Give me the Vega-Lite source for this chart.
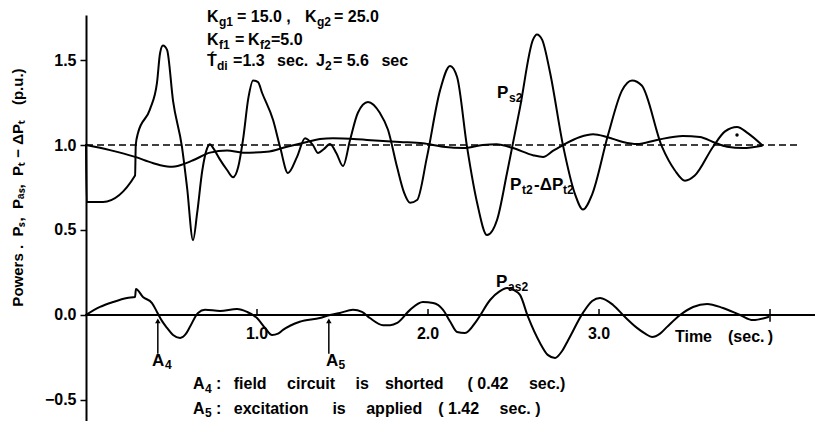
{
  "$schema": "https://vega.github.io/schema/vega-lite/v6.json",
  "width": 729,
  "height": 406,
  "autosize": {"type": "none"},
  "padding": {"left": 86, "top": 15, "right": 0, "bottom": 0},
  "background": "white",
  "config": {
    "view": {"stroke": null},
    "text": {"font": "Liberation Sans", "fontWeight": "bold", "color": "black"}
  },
  "resolve": {"axis": {"x": "independent", "y": "independent"}},
  "datasets": {
    "curves": [
      {"s": "Ps2", "t": 0, "v": 1.0}, {"s": "Ps2", "t": 0.004, "v": 0.665}, {"s": "Ps2", "t": 0.1, "v": 0.665},
      {"s": "Ps2", "t": 0.287, "v": 0.82}, {"s": "Ps2", "t": 0.291, "v": 1.0}, {"s": "Ps2", "t": 0.304, "v": 1.07},
      {"s": "Ps2", "t": 0.374, "v": 1.21}, {"s": "Ps2", "t": 0.415, "v": 1.365}, {"s": "Ps2", "t": 0.433, "v": 1.54},
      {"s": "Ps2", "t": 0.45, "v": 1.585}, {"s": "Ps2", "t": 0.474, "v": 1.56}, {"s": "Ps2", "t": 0.509, "v": 1.26},
      {"s": "Ps2", "t": 0.561, "v": 0.99}, {"s": "Ps2", "t": 0.591, "v": 0.75}, {"s": "Ps2", "t": 0.626, "v": 0.44},
      {"s": "Ps2", "t": 0.65, "v": 0.6}, {"s": "Ps2", "t": 0.68, "v": 0.85}, {"s": "Ps2", "t": 0.708, "v": 0.98},
      {"s": "Ps2", "t": 0.725, "v": 1.005}, {"s": "Ps2", "t": 0.745, "v": 0.98}, {"s": "Ps2", "t": 0.78, "v": 0.92},
      {"s": "Ps2", "t": 0.825, "v": 0.853}, {"s": "Ps2", "t": 0.86, "v": 0.81}, {"s": "Ps2", "t": 0.89, "v": 0.87},
      {"s": "Ps2", "t": 0.918, "v": 1.03}, {"s": "Ps2", "t": 0.95, "v": 1.28}, {"s": "Ps2", "t": 0.977, "v": 1.38},
      {"s": "Ps2", "t": 1.006, "v": 1.37}, {"s": "Ps2", "t": 1.03, "v": 1.306}, {"s": "Ps2", "t": 1.094, "v": 1.147},
      {"s": "Ps2", "t": 1.135, "v": 0.988}, {"s": "Ps2", "t": 1.181, "v": 0.835}, {"s": "Ps2", "t": 1.234, "v": 0.93},
      {"s": "Ps2", "t": 1.281, "v": 1.04}, {"s": "Ps2", "t": 1.327, "v": 1.0}, {"s": "Ps2", "t": 1.357, "v": 0.953},
      {"s": "Ps2", "t": 1.39, "v": 0.975}, {"s": "Ps2", "t": 1.427, "v": 1.006}, {"s": "Ps2", "t": 1.465, "v": 0.95},
      {"s": "Ps2", "t": 1.503, "v": 0.876}, {"s": "Ps2", "t": 1.544, "v": 1.03}, {"s": "Ps2", "t": 1.59, "v": 1.19},
      {"s": "Ps2", "t": 1.649, "v": 1.253}, {"s": "Ps2", "t": 1.719, "v": 1.188}, {"s": "Ps2", "t": 1.766, "v": 1.09},
      {"s": "Ps2", "t": 1.819, "v": 0.87}, {"s": "Ps2", "t": 1.86, "v": 0.72}, {"s": "Ps2", "t": 1.895, "v": 0.66},
      {"s": "Ps2", "t": 1.936, "v": 0.676}, {"s": "Ps2", "t": 1.994, "v": 0.93}, {"s": "Ps2", "t": 2.07, "v": 1.32},
      {"s": "Ps2", "t": 2.129, "v": 1.465}, {"s": "Ps2", "t": 2.17, "v": 1.4}, {"s": "Ps2", "t": 2.228, "v": 0.99},
      {"s": "Ps2", "t": 2.287, "v": 0.66}, {"s": "Ps2", "t": 2.345, "v": 0.47}, {"s": "Ps2", "t": 2.404, "v": 0.56},
      {"s": "Ps2", "t": 2.462, "v": 0.835}, {"s": "Ps2", "t": 2.538, "v": 1.22}, {"s": "Ps2", "t": 2.614, "v": 1.62},
      {"s": "Ps2", "t": 2.637, "v": 1.65}, {"s": "Ps2", "t": 2.667, "v": 1.62}, {"s": "Ps2", "t": 2.713, "v": 1.43},
      {"s": "Ps2", "t": 2.79, "v": 0.995}, {"s": "Ps2", "t": 2.86, "v": 0.71}, {"s": "Ps2", "t": 2.906, "v": 0.62},
      {"s": "Ps2", "t": 2.96, "v": 0.71}, {"s": "Ps2", "t": 3.053, "v": 1.06}, {"s": "Ps2", "t": 3.134, "v": 1.32},
      {"s": "Ps2", "t": 3.193, "v": 1.38}, {"s": "Ps2", "t": 3.25, "v": 1.35}, {"s": "Ps2", "t": 3.368, "v": 0.99},
      {"s": "Ps2", "t": 3.444, "v": 0.85}, {"s": "Ps2", "t": 3.503, "v": 0.79}, {"s": "Ps2", "t": 3.56, "v": 0.82},
      {"s": "Ps2", "t": 3.667, "v": 0.99}, {"s": "Ps2", "t": 3.737, "v": 1.08}, {"s": "Ps2", "t": 3.807, "v": 1.106},
      {"s": "Ps2", "t": 3.87, "v": 1.07}, {"s": "Ps2", "t": 3.953, "v": 1.0},

      {"s": "Pt2", "t": 0, "v": 1.0}, {"s": "Pt2", "t": 0.14, "v": 0.97}, {"s": "Pt2", "t": 0.287, "v": 0.93},
      {"s": "Pt2", "t": 0.39, "v": 0.894}, {"s": "Pt2", "t": 0.49, "v": 0.872}, {"s": "Pt2", "t": 0.52, "v": 0.874},
      {"s": "Pt2", "t": 0.626, "v": 0.91}, {"s": "Pt2", "t": 0.725, "v": 0.955}, {"s": "Pt2", "t": 0.825, "v": 0.968},
      {"s": "Pt2", "t": 0.918, "v": 0.955}, {"s": "Pt2", "t": 1.058, "v": 0.96}, {"s": "Pt2", "t": 1.175, "v": 0.99},
      {"s": "Pt2", "t": 1.292, "v": 1.018}, {"s": "Pt2", "t": 1.368, "v": 1.035}, {"s": "Pt2", "t": 1.444, "v": 1.04},
      {"s": "Pt2", "t": 1.643, "v": 1.03}, {"s": "Pt2", "t": 1.836, "v": 1.018}, {"s": "Pt2", "t": 1.97, "v": 1.01},
      {"s": "Pt2", "t": 2.088, "v": 0.99}, {"s": "Pt2", "t": 2.205, "v": 0.982}, {"s": "Pt2", "t": 2.32, "v": 1.0},
      {"s": "Pt2", "t": 2.4, "v": 1.004}, {"s": "Pt2", "t": 2.497, "v": 0.982}, {"s": "Pt2", "t": 2.614, "v": 0.94},
      {"s": "Pt2", "t": 2.673, "v": 0.93}, {"s": "Pt2", "t": 2.73, "v": 0.965}, {"s": "Pt2", "t": 2.79, "v": 1.0},
      {"s": "Pt2", "t": 2.889, "v": 1.047}, {"s": "Pt2", "t": 2.965, "v": 1.063}, {"s": "Pt2", "t": 3.047, "v": 1.047},
      {"s": "Pt2", "t": 3.14, "v": 1.018}, {"s": "Pt2", "t": 3.222, "v": 1.006}, {"s": "Pt2", "t": 3.339, "v": 1.03},
      {"s": "Pt2", "t": 3.49, "v": 1.053}, {"s": "Pt2", "t": 3.59, "v": 1.047}, {"s": "Pt2", "t": 3.667, "v": 1.018},
      {"s": "Pt2", "t": 3.749, "v": 0.99}, {"s": "Pt2", "t": 3.842, "v": 0.982}, {"s": "Pt2", "t": 3.953, "v": 0.996},

      {"s": "Pas2", "t": 0, "v": 0.0}, {"s": "Pas2", "t": 0.082, "v": 0.047}, {"s": "Pas2", "t": 0.158, "v": 0.076},
      {"s": "Pas2", "t": 0.24, "v": 0.1}, {"s": "Pas2", "t": 0.287, "v": 0.106}, {"s": "Pas2", "t": 0.292, "v": 0.153},
      {"s": "Pas2", "t": 0.333, "v": 0.106}, {"s": "Pas2", "t": 0.386, "v": 0.07}, {"s": "Pas2", "t": 0.415, "v": 0.018},
      {"s": "Pas2", "t": 0.444, "v": -0.035}, {"s": "Pas2", "t": 0.474, "v": -0.076}, {"s": "Pas2", "t": 0.509, "v": -0.118},
      {"s": "Pas2", "t": 0.55, "v": -0.135}, {"s": "Pas2", "t": 0.585, "v": -0.11}, {"s": "Pas2", "t": 0.608, "v": -0.07},
      {"s": "Pas2", "t": 0.655, "v": 0.012}, {"s": "Pas2", "t": 0.696, "v": 0.03}, {"s": "Pas2", "t": 0.784, "v": 0.024},
      {"s": "Pas2", "t": 0.883, "v": 0.035}, {"s": "Pas2", "t": 0.942, "v": 0.018}, {"s": "Pas2", "t": 1.0, "v": -0.018},
      {"s": "Pas2", "t": 1.047, "v": -0.076}, {"s": "Pas2", "t": 1.088, "v": -0.118}, {"s": "Pas2", "t": 1.123, "v": -0.11},
      {"s": "Pas2", "t": 1.152, "v": -0.088}, {"s": "Pas2", "t": 1.25, "v": -0.04}, {"s": "Pas2", "t": 1.368, "v": -0.018},
      {"s": "Pas2", "t": 1.427, "v": 0.0}, {"s": "Pas2", "t": 1.485, "v": 0.012}, {"s": "Pas2", "t": 1.561, "v": 0.03},
      {"s": "Pas2", "t": 1.614, "v": 0.018}, {"s": "Pas2", "t": 1.66, "v": -0.018}, {"s": "Pas2", "t": 1.737, "v": -0.06},
      {"s": "Pas2", "t": 1.778, "v": -0.06}, {"s": "Pas2", "t": 1.82, "v": -0.047}, {"s": "Pas2", "t": 1.895, "v": 0.03},
      {"s": "Pas2", "t": 1.97, "v": 0.076}, {"s": "Pas2", "t": 2.03, "v": 0.07}, {"s": "Pas2", "t": 2.088, "v": 0.03},
      {"s": "Pas2", "t": 2.13, "v": -0.04}, {"s": "Pas2", "t": 2.17, "v": -0.1}, {"s": "Pas2", "t": 2.216, "v": -0.106},
      {"s": "Pas2", "t": 2.287, "v": -0.03}, {"s": "Pas2", "t": 2.363, "v": 0.088}, {"s": "Pas2", "t": 2.42, "v": 0.14},
      {"s": "Pas2", "t": 2.462, "v": 0.159}, {"s": "Pas2", "t": 2.5, "v": 0.147}, {"s": "Pas2", "t": 2.538, "v": 0.118},
      {"s": "Pas2", "t": 2.585, "v": -0.012}, {"s": "Pas2", "t": 2.655, "v": -0.165}, {"s": "Pas2", "t": 2.7, "v": -0.235},
      {"s": "Pas2", "t": 2.743, "v": -0.253}, {"s": "Pas2", "t": 2.78, "v": -0.218}, {"s": "Pas2", "t": 2.82, "v": -0.147},
      {"s": "Pas2", "t": 2.906, "v": 0.012}, {"s": "Pas2", "t": 2.96, "v": 0.082}, {"s": "Pas2", "t": 3.006, "v": 0.1},
      {"s": "Pas2", "t": 3.082, "v": 0.059}, {"s": "Pas2", "t": 3.152, "v": -0.012}, {"s": "Pas2", "t": 3.222, "v": -0.076},
      {"s": "Pas2", "t": 3.27, "v": -0.11}, {"s": "Pas2", "t": 3.31, "v": -0.13}, {"s": "Pas2", "t": 3.357, "v": -0.11},
      {"s": "Pas2", "t": 3.398, "v": -0.07}, {"s": "Pas2", "t": 3.474, "v": 0.0}, {"s": "Pas2", "t": 3.55, "v": 0.047},
      {"s": "Pas2", "t": 3.632, "v": 0.065}, {"s": "Pas2", "t": 3.725, "v": 0.041}, {"s": "Pas2", "t": 3.825, "v": 0.0},
      {"s": "Pas2", "t": 3.9, "v": -0.03}, {"s": "Pas2", "t": 3.99, "v": -0.012}
    ],
    "params": [
      {"t": 0.708, "v": 1.7235, "text": "K"},
      {"t": 0.883, "v": 1.7235, "text": "= 15.0 ,"},
      {"t": 1.281, "v": 1.7235, "text": "K"},
      {"t": 1.45, "v": 1.7235, "text": "= 25.0"},
      {"t": 0.708, "v": 1.588, "text": "K"},
      {"t": 0.871, "v": 1.588, "text": "="},
      {"t": 0.947, "v": 1.588, "text": "K"},
      {"t": 1.082, "v": 1.588, "text": "=5.0"},
      {"t": 0.708, "v": 1.462, "text": "T\u0301"},
      {"t": 0.86, "v": 1.462, "text": "=1.3\u2002 sec."},
      {"t": 1.345, "v": 1.462, "text": "J"},
      {"t": 1.444, "v": 1.462, "text": "= 5.6\u2002 sec"}
    ],
    "paramSubs": [
      {"t": 0.778, "v": 1.703, "text": "g1"},
      {"t": 1.351, "v": 1.703, "text": "g2"},
      {"t": 0.778, "v": 1.567, "text": "f1"},
      {"t": 1.018, "v": 1.567, "text": "f2"},
      {"t": 0.766, "v": 1.441, "text": "di"},
      {"t": 1.398, "v": 1.441, "text": "2"}
    ],
    "notes": [
      {"t": 0.626, "v": -0.436, "text": "A"},
      {"t": 0.76, "v": -0.436, "text": ":\u2002 field\u2002\u2002 circuit\u2002\u2002 is\u2002\u2002shorted\u2002\u2002\u2002( 0.42\u2002\u2002 sec.)"},
      {"t": 0.626, "v": -0.582, "text": "A"},
      {"t": 0.76, "v": -0.582, "text": ":\u2002 excitation\u2002\u2002\u2002is\u2002\u2002 applied\u2002\u2002(\u00a01.42\u2002\u2002\u00a0sec.\u00a0)"}
    ],
    "noteSubs": [
      {"t": 0.696, "v": -0.457, "text": "4"},
      {"t": 0.696, "v": -0.603, "text": "5"}
    ],
    "curveLabels": [
      {"t": 2.404, "v": 1.276, "text": "P"},
      {"t": 2.48, "v": 0.735, "text": "P"},
      {"t": 2.62, "v": 0.735, "text": "-\u0394P"},
      {"t": 2.398, "v": 0.165, "text": "P"},
      {"t": 0.386, "v": -0.3, "text": "A"},
      {"t": 1.404, "v": -0.3, "text": "A"}
    ],
    "curveSubs": [
      {"t": 2.474, "v": 1.253, "text": "s2"},
      {"t": 2.55, "v": 0.712, "text": "t2"},
      {"t": 2.789, "v": 0.712, "text": "t2"},
      {"t": 2.468, "v": 0.142, "text": "as2"},
      {"t": 0.462, "v": -0.32, "text": "4"},
      {"t": 1.477, "v": -0.32, "text": "5"}
    ],
    "events": [
      {"t": 0.42, "name": "A4"},
      {"t": 1.42, "name": "A5"}
    ],
    "timeTicks": [
      {"t": 1, "label": "1.0"},
      {"t": 2, "label": "2.0"},
      {"t": 3, "label": "3.0"}
    ]
  },
  "layer": [
    {
      "data": {"values": [{}]},
      "mark": {"type": "rule", "strokeDash": [7, 4], "strokeWidth": 1.5, "color": "black"},
      "encoding": {
        "x": {"datum": 0, "type": "quantitative", "scale": {"domain": [0, 4.263], "nice": false, "zero": false}, "axis": null},
        "x2": {"datum": 4.175},
        "y": {"datum": 1, "type": "quantitative", "scale": {"domain": [-0.624, 1.765], "nice": false, "zero": false}, "axis": null}
      }
    },
    {
      "data": {"values": [{}]},
      "mark": {"type": "rule", "strokeWidth": 2, "color": "black"},
      "encoding": {
        "x": {"datum": 0, "type": "quantitative", "axis": null},
        "x2": {"datum": 4.263},
        "y": {"datum": 0, "type": "quantitative", "axis": null}
      }
    },
    {
      "data": {"name": "timeTicks"},
      "mark": {"type": "rule", "strokeWidth": 1.5, "color": "black"},
      "encoding": {
        "x": {"field": "t", "type": "quantitative", "axis": null},
        "y": {"datum": 0, "type": "quantitative", "axis": null},
        "y2": {"datum": 0.035}
      }
    },
    {
      "data": {"values": [{}]},
      "mark": {"type": "rule", "strokeWidth": 1.5, "color": "black"},
      "encoding": {
        "x": {"datum": 4, "type": "quantitative", "axis": null},
        "y": {"datum": -0.04, "type": "quantitative", "axis": null},
        "y2": {"datum": 0.035}
      }
    },
    {
      "data": {"name": "timeTicks"},
      "mark": {"type": "text", "align": "center", "baseline": "alphabetic", "fontSize": 16},
      "encoding": {
        "x": {"field": "t", "type": "quantitative", "axis": null},
        "y": {"datum": -0.141, "type": "quantitative", "axis": null},
        "text": {"field": "label"}
      }
    },
    {
      "data": {"values": [{"t": 3.444, "v": -0.159, "text": "Time\u2003(sec.\u2009)"}]},
      "mark": {"type": "text", "align": "left", "baseline": "alphabetic", "fontSize": 16},
      "encoding": {
        "x": {"field": "t", "type": "quantitative", "axis": null},
        "y": {"field": "v", "type": "quantitative", "axis": null},
        "text": {"field": "text"}
      }
    },
    {
      "data": {"name": "curves"},
      "mark": {"type": "line", "interpolate": "monotone", "strokeWidth": 2, "color": "black", "strokeJoin": "round", "strokeCap": "round"},
      "encoding": {
        "x": {"field": "t", "type": "quantitative", "axis": null},
        "y": {
          "field": "v",
          "type": "quantitative",
          "axis": {
            "values": [-0.5, 0, 0.5, 1, 1.5],
            "format": ".1f",
            "grid": false,
            "title": "Powers\u00a0.\u00a0 P\u209b,\u00a0 P\u2090\u209b,\u00a0 P\u209c \u2212 \u0394P\u209c\u2003(p.u.)",
            "domainColor": "black",
            "domainWidth": 2,
            "tickColor": "black",
            "tickWidth": 1.5,
            "tickSize": 6,
            "labelFont": "Liberation Sans",
            "labelFontSize": 16,
            "labelFontWeight": "bold",
            "labelColor": "black",
            "labelPadding": 4,
            "titleFont": "Liberation Sans",
            "titleFontSize": 15,
            "titleFontWeight": "bold",
            "titleColor": "black",
            "titleAngle": -90,
            "titleAlign": "center",
            "titleBaseline": "bottom",
            "titleX": -61,
            "titleY": 172
          }
        },
        "detail": {"field": "s", "type": "nominal"}
      }
    },
    {
      "data": {"values": [{"t": 3.807, "v": 1.059}]},
      "mark": {"type": "point", "filled": true, "size": 12, "color": "black", "opacity": 1},
      "encoding": {
        "x": {"field": "t", "type": "quantitative", "axis": null},
        "y": {"field": "v", "type": "quantitative", "axis": null}
      }
    },
    {
      "data": {"name": "events"},
      "mark": {"type": "rule", "strokeWidth": 1.5, "color": "black"},
      "encoding": {
        "x": {"field": "t", "type": "quantitative", "axis": null},
        "y": {"datum": -0.228, "type": "quantitative", "axis": null},
        "y2": {"datum": -0.03}
      }
    },
    {
      "data": {"name": "events"},
      "mark": {"type": "point", "shape": "triangle-up", "filled": true, "size": 30, "color": "black", "opacity": 1},
      "encoding": {
        "x": {"field": "t", "type": "quantitative", "axis": null},
        "y": {"datum": -0.035, "type": "quantitative", "axis": null}
      }
    },
    {
      "data": {"name": "params"},
      "mark": {"type": "text", "align": "left", "baseline": "alphabetic", "fontSize": 16},
      "encoding": {
        "x": {"field": "t", "type": "quantitative", "axis": null},
        "y": {"field": "v", "type": "quantitative", "axis": null},
        "text": {"field": "text"}
      }
    },
    {
      "data": {"name": "paramSubs"},
      "mark": {"type": "text", "align": "left", "baseline": "alphabetic", "fontSize": 12},
      "encoding": {
        "x": {"field": "t", "type": "quantitative", "axis": null},
        "y": {"field": "v", "type": "quantitative", "axis": null},
        "text": {"field": "text"}
      }
    },
    {
      "data": {"name": "notes"},
      "mark": {"type": "text", "align": "left", "baseline": "alphabetic", "fontSize": 16},
      "encoding": {
        "x": {"field": "t", "type": "quantitative", "axis": null},
        "y": {"field": "v", "type": "quantitative", "axis": null},
        "text": {"field": "text"}
      }
    },
    {
      "data": {"name": "noteSubs"},
      "mark": {"type": "text", "align": "left", "baseline": "alphabetic", "fontSize": 12},
      "encoding": {
        "x": {"field": "t", "type": "quantitative", "axis": null},
        "y": {"field": "v", "type": "quantitative", "axis": null},
        "text": {"field": "text"}
      }
    },
    {
      "data": {"name": "curveLabels"},
      "mark": {"type": "text", "align": "left", "baseline": "alphabetic", "fontSize": 17},
      "encoding": {
        "x": {"field": "t", "type": "quantitative", "axis": null},
        "y": {"field": "v", "type": "quantitative", "axis": null},
        "text": {"field": "text"}
      }
    },
    {
      "data": {"name": "curveSubs"},
      "mark": {"type": "text", "align": "left", "baseline": "alphabetic", "fontSize": 12},
      "encoding": {
        "x": {"field": "t", "type": "quantitative", "axis": null},
        "y": {"field": "v", "type": "quantitative", "axis": null},
        "text": {"field": "text"}
      }
    }
  ]
}
